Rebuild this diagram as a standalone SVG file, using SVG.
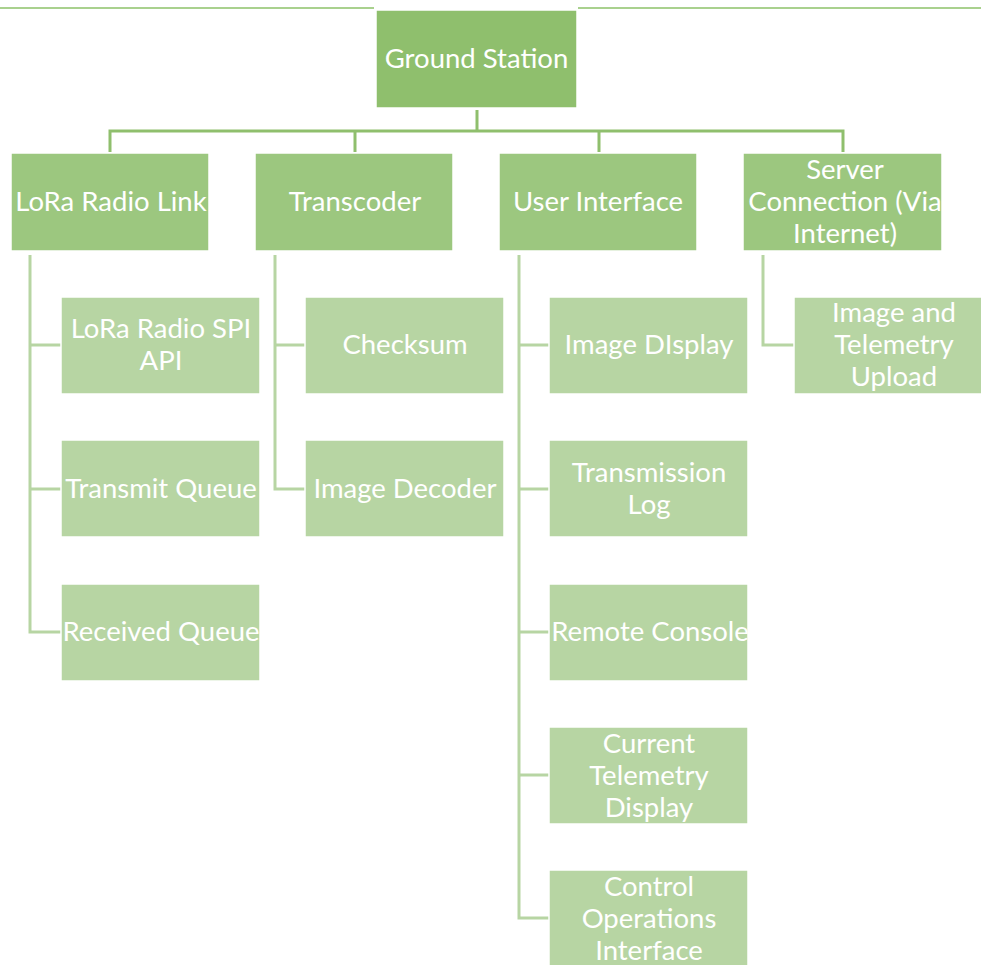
<svg xmlns="http://www.w3.org/2000/svg" width="981" height="965" viewBox="0 0 981 965">
<style>
.r0{fill:#8fbf6d;stroke:#ffffff;stroke-width:1.5}
.r1{fill:#9cc77f;stroke:#ffffff;stroke-width:1.5}
.r2{fill:#b7d5a3;stroke:#ffffff;stroke-width:1.5}
.t{font-family:Lato,"Open Sans",sans-serif;font-size:27.5px;fill:#ffffff;text-anchor:middle}
.c0{fill:none;stroke:#8fbf6d;stroke-width:3}
.c1{fill:none;stroke:#b7d5a3;stroke-width:3}
</style>
<line x1="0" y1="8" x2="981" y2="8" stroke="#a9d18e" stroke-width="2"/>
<line x1="374" y1="8" x2="578" y2="8" stroke="#ffffff" stroke-width="2"/>
<g id="connectors">
<path class="c0" d="M477 110 V131 M110 152 V131 H843 V152 M355 131 V152 M599 131 V152"/>
<path class="c1" d="M30 255 V632 H61 M30 345 H61 M30 489 H61"/>
<path class="c1" d="M275 255 V489 H305 M275 345 H305"/>
<path class="c1" d="M519 255 V918 H549 M519 345 H549 M519 489 H549 M519 632 H549 M519 775 H549"/>
<path class="c1" d="M763 255 V345 H794"/>
</g>
<g id="ground-station"><rect class="r0" x="376" y="10" width="201" height="98"/><text class="t" x="476.5" y="68">Ground Station</text></g>
<g id="lora-radio-link"><rect class="r1" x="11" y="153" width="198" height="98"/><text class="t" x="111" y="211">LoRa Radio Link</text></g>
<g id="transcoder"><rect class="r1" x="255" y="153" width="198" height="98"/><text class="t" x="355" y="211">Transcoder</text></g>
<g id="user-interface"><rect class="r1" x="499" y="153" width="198" height="98"/><text class="t" x="598" y="211">User Interface</text></g>
<g id="server-connection"><rect class="r1" x="743" y="153" width="199" height="98"/><text class="t" x="845" y="179">Server</text><text class="t" x="845" y="211">Connection (Via</text><text class="t" x="845" y="243">Internet)</text></g>
<g id="lora-spi"><rect class="r2" x="61" y="297" width="199" height="97"/><text class="t" x="161" y="338">LoRa Radio SPI</text><text class="t" x="161" y="370">API</text></g>
<g id="transmit-queue"><rect class="r2" x="61" y="440" width="199" height="97"/><text class="t" x="161" y="498">Transmit Queue</text></g>
<g id="received-queue"><rect class="r2" x="61" y="584" width="199" height="97"/><text class="t" x="161" y="641">Received Queue</text></g>
<g id="checksum"><rect class="r2" x="305" y="297" width="199" height="97"/><text class="t" x="405" y="354">Checksum</text></g>
<g id="image-decoder"><rect class="r2" x="305" y="440" width="199" height="97"/><text class="t" x="405" y="498">Image Decoder</text></g>
<g id="image-display"><rect class="r2" x="549" y="297" width="199" height="97"/><text class="t" x="649" y="354">Image DIsplay</text></g>
<g id="transmission-log"><rect class="r2" x="549" y="440" width="199" height="97"/><text class="t" x="649" y="482">Transmission</text><text class="t" x="649" y="514">Log</text></g>
<g id="remote-console"><rect class="r2" x="549" y="584" width="199" height="97"/><text class="t" x="650" y="641">Remote Console</text></g>
<g id="current-telemetry"><rect class="r2" x="549" y="727" width="199" height="97"/><text class="t" x="649" y="753">Current</text><text class="t" x="649" y="785">Telemetry</text><text class="t" x="649" y="817">Display</text></g>
<g id="control-operations"><rect class="r2" x="549" y="870" width="199" height="97"/><text class="t" x="649" y="896">Control</text><text class="t" x="649" y="928">Operations</text><text class="t" x="649" y="960">Interface</text></g>
<g id="image-telemetry-upload"><rect class="r2" x="794" y="297" width="190" height="97"/><text class="t" x="894" y="322">Image and</text><text class="t" x="894" y="354">Telemetry</text><text class="t" x="894" y="386">Upload</text></g>
</svg>
